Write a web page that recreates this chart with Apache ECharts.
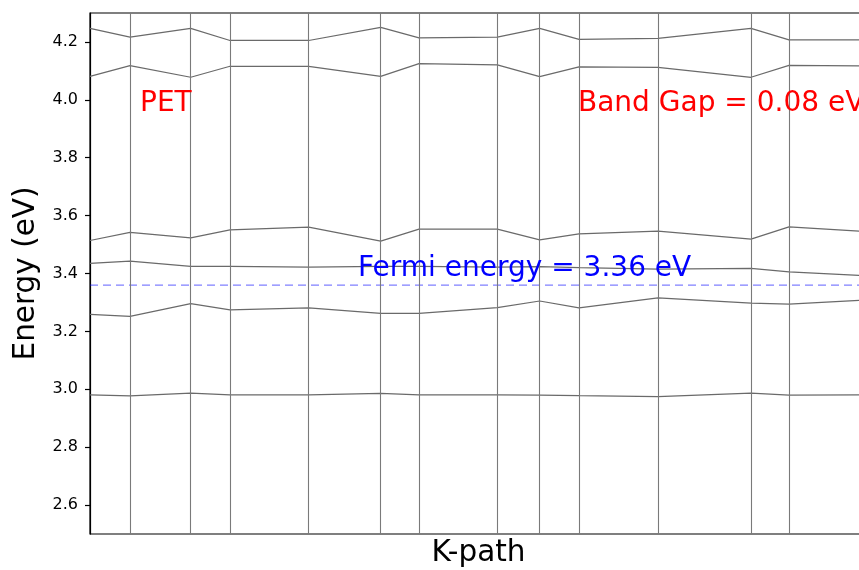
<!DOCTYPE html>
<html>
<head>
<meta charset="utf-8">
<script src="https://cdn.jsdelivr.net/npm/echarts@6/dist/echarts.min.js"></script>
<style>html,body{margin:0;padding:0;background:#fff}#c{width:859px;height:570px}</style>
</head>
<body>
<div id="c"></div>
<script>
// k-path distances (arbitrary units along the path)
const kDist = [0, 40, 100.7, 140, 218.7, 290.7, 329, 407.3, 449.7, 489, 568, 661, 699, 777];
// band energies (eV) at each k-point
const band1 = [4.247, 4.217, 4.247, 4.205, 4.205, 4.250, 4.214, 4.217, 4.247, 4.209, 4.212, 4.247, 4.207, 4.207];
const band2 = [4.081, 4.118, 4.078, 4.116, 4.116, 4.081, 4.125, 4.121, 4.080, 4.114, 4.112, 4.078, 4.119, 4.117];
const band3 = [3.514, 3.542, 3.523, 3.551, 3.560, 3.512, 3.553, 3.553, 3.516, 3.537, 3.546, 3.519, 3.561, 3.545];
const band4 = [3.435, 3.443, 3.425, 3.425, 3.422, 3.425, 3.425, 3.422, 3.424, 3.420, 3.415, 3.418, 3.406, 3.392];
const band5 = [3.259, 3.252, 3.296, 3.274, 3.281, 3.262, 3.262, 3.282, 3.305, 3.281, 3.316, 3.298, 3.294, 3.309];
const band6 = [2.981, 2.977, 2.987, 2.981, 2.981, 2.986, 2.981, 2.981, 2.980, 2.978, 2.975, 2.987, 2.980, 2.981];
const bands = [band1, band2, band3, band4, band5, band6];
const yTicks = [2.6, 2.8, 3.0, 3.2, 3.4, 3.6, 3.8, 4.0, 4.2];
const fermiEnergy = 3.36;
const bandGap = 0.08;
const material = 'PET';

const FONT = '"DejaVu Sans", "Liberation Sans", sans-serif';
const chart = echarts.init(document.getElementById('c'), null, {renderer: 'canvas'});

const kMin = kDist[0], kMax = kDist[kDist.length - 1];

const series = bands.map((b, bi) => {
  const s = {
    type: 'line',
    data: kDist.map((k, i) => [k, b[i]]),
    showSymbol: false,
    symbol: 'none',
    silent: true,
    lineStyle: {color: '#6a6a6a', width: 1.25},
    z: 3
  };
  if (bi === 0) {
    s.markLine = {
      silent: true,
      symbol: ['none', 'none'],
      label: {show: false},
      lineStyle: {color: '#7a7a7a', width: 1.1, type: 'solid'},
      data: kDist.slice(1).map(k => ({xAxis: k}))
    };
  }
  return s;
});

// Fermi level dashed line
series.push({
  type: 'line',
  data: [[kMin, fermiEnergy], [kMax, fermiEnergy]],
  showSymbol: false,
  symbol: 'none',
  silent: true,
  color: 'rgba(0,0,255,0.5)',
  lineStyle: {color: 'rgba(0,0,255,0.5)', width: 1.2, type: [8, 5]},
  z: 4
});

chart.setOption({
  animation: false,
  backgroundColor: '#fff',
  grid: {
    left: 90, top: 13, right: -8, bottom: 36,
    show: true, borderColor: '#000', borderWidth: 1.2,
    containLabel: false, outerBoundsMode: 'none'
  },
  xAxis: {
    type: 'value', min: kMin, max: kMax,
    axisLine: {show: false}, axisTick: {show: false}, axisLabel: {show: false},
    splitLine: {show: false},
    name: 'K-path', nameLocation: 'middle', nameGap: 19,
    nameTextStyle: {fontFamily: FONT, fontSize: 29.5, color: '#000', verticalAlign: 'middle'}
  },
  yAxis: {
    type: 'value', min: 2.5, max: 4.3,
    axisLine: {show: true, lineStyle: {color: '#000', width: 1.2}},
    axisTick: {show: true, customValues: yTicks, length: 5, lineStyle: {color: '#000', width: 1.2}},
    axisLabel: {show: true, customValues: yTicks, margin: 12, fontFamily: FONT, fontSize: 16, color: '#000',
      formatter: v => Number(v).toFixed(1)},
    splitLine: {show: false},
    name: 'Energy (eV)', nameLocation: 'middle', nameGap: 62, nameRotate: 90,
    nameTextStyle: {fontFamily: FONT, fontSize: 29.5, color: '#000', verticalAlign: 'middle'}
  },
  graphic: [
    {type: 'text', x: 140, y: 104, z: 10, style: {text: material, fill: '#ff0000', font: '28px ' + FONT, verticalAlign: 'middle', align: 'left'}},
    {type: 'text', x: 578, y: 104, z: 10, style: {text: 'Band Gap = ' + bandGap.toFixed(2) + ' eV', fill: '#ff0000', font: '28px ' + FONT, verticalAlign: 'middle', align: 'left'}},
    {type: 'text', x: 358, y: 269, z: 10, style: {text: 'Fermi energy = ' + fermiEnergy.toFixed(2) + ' eV', fill: '#0000ff', font: '28px ' + FONT, verticalAlign: 'middle', align: 'left'}}
  ],
  series: series
});
</script>
</body>
</html>
